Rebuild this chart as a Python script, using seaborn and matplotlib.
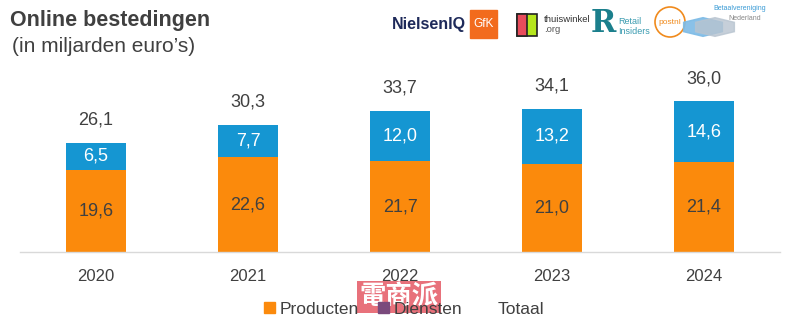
import matplotlib
matplotlib.use("Agg")
import matplotlib.pyplot as plt
import matplotlib.patches as mpatches
import seaborn as sns
import pandas as pd

# Online spending in the Netherlands, billions of euros
years = ["2020", "2021", "2022", "2023", "2024"]
producten = [19.6, 22.6, 21.7, 21.0, 21.4]
diensten = [6.5, 7.7, 12.0, 13.2, 14.6]
totaal = [26.1, 30.3, 33.7, 34.1, 36.0]

ORANGE = "#FB8A0C"
BLUE = "#1596D2"
TEXT = "#404040"

sns.set_theme(style="white")
plt.rcParams["font.family"] = ["Liberation Sans", "Noto Sans CJK SC", "DejaVu Sans"]

df = pd.DataFrame({"jaar": years, "Producten": producten,
                   "Diensten": diensten, "Totaal": totaal})

fig = plt.figure(figsize=(8, 3.35), dpi=100)
ax = fig.add_axes([0.025, 0.2478, 0.95, 0.5003])

# stacked bars: services drawn at full height, products on top of them
sns.barplot(data=df, x="jaar", y="Totaal", color=BLUE, width=0.4,
            saturation=1, ax=ax, edgecolor="none")
sns.barplot(data=df, x="jaar", y="Producten", color=ORANGE, width=0.4,
            saturation=1, ax=ax, edgecolor="none")

ax.set_xlim(-0.5, len(years) - 0.5)
ax.set_ylim(0, 40)
for side in ["top", "right", "left"]:
    ax.spines[side].set_visible(False)
ax.spines["bottom"].set_color("#d9d9d9")
ax.spines["bottom"].set_linewidth(1.0)
ax.set_yticks([])
ax.set_xlabel("")
ax.set_ylabel("")
ax.tick_params(axis="x", length=0, pad=12, labelsize=12, labelcolor=TEXT)

def nl(v):
    return f"{v:.1f}".replace(".", ",")

for i in range(len(years)):
    ax.text(i, producten[i] / 2, nl(producten[i]), ha="center", va="center",
            fontsize=13, color=TEXT)
    ax.text(i, producten[i] + diensten[i] / 2, nl(diensten[i]), ha="center",
            va="center", fontsize=13, color="white")
    ax.text(i, totaal[i] + 5.4, nl(totaal[i]), ha="center", va="center",
            fontsize=13, color=TEXT)

# title
fig.text(0.0125, 0.94, "Online bestedingen", fontsize=15.5, fontweight="bold",
         color=TEXT, ha="left", va="center")
fig.text(0.015, 0.86, "(in miljarden euro’s)", fontsize=15,
         color=TEXT, ha="left", va="center")

# legend
handles = [mpatches.Patch(color=ORANGE, label="Producten"),
           mpatches.Patch(color="#7A4A7C", label="Diensten"),
           mpatches.Patch(color="none", label="Totaal")]
fig.legend(handles=handles, loc="center", bbox_to_anchor=(0.505, 0.077),
           ncol=3, frameon=False, fontsize=12.5, handlelength=0.6,
           handleheight=0.6, handletextpad=0.3, columnspacing=1.1,
           labelcolor=TEXT)

# partner marks in the header
W, H = 800, 335
def fx(px):
    return px / W
def fy(py):
    return 1 - py / H

fig.text(fx(392), fy(24), "NielsenIQ", fontsize=11.5, fontweight="bold",
         color="#1E2A5A", ha="left", va="center")
fig.patches.append(mpatches.Rectangle((fx(470), fy(38)), fx(27), 28 / H,
                   transform=fig.transFigure, color="#F26B1D"))
fig.text(fx(483.5), fy(24), "GfK", fontsize=8.5, color="white",
         ha="center", va="center")
fig.patches.append(mpatches.Rectangle((fx(517), fy(36)), fx(20), 22 / H,
                   transform=fig.transFigure, facecolor="#B5E61D",
                   edgecolor="#222222", linewidth=1.2))
fig.patches.append(mpatches.Rectangle((fx(517), fy(36)), fx(10), 22 / H,
                   transform=fig.transFigure, facecolor="#E84C5B",
                   edgecolor="#222222", linewidth=1.2))
fig.text(fx(544), fy(19), "thuiswinkel", fontsize=6.8, color="#333333",
         ha="left", va="center")
fig.text(fx(544), fy(30), ".org", fontsize=6.8, color="#555555",
         ha="left", va="center")
fig.text(fx(603), fy(24), "R", fontsize=22, fontweight="bold",
         color="#1B7F8C", ha="center", va="center", family="DejaVu Serif")
fig.text(fx(618), fy(22), "Retail", fontsize=6.5, color="#3A9BB0",
         ha="left", va="center")
fig.text(fx(618), fy(32), "Insiders", fontsize=6.5, color="#3A9BB0",
         ha="left", va="center")
fig.patches.append(mpatches.Ellipse((fx(670), fy(22)), fx(30), 30 / H,
                   transform=fig.transFigure, facecolor="white",
                   edgecolor="#F08A1C", linewidth=1.2))
fig.text(fx(670), fy(22), "postnl", fontsize=6, color="#F08A1C",
         ha="center", va="center")
fig.patches.append(mpatches.RegularPolygon((fx(703), fy(27)), 6, radius=0.028,
                   transform=fig.transFigure, color="#7DBBE6", alpha=0.9))
fig.patches.append(mpatches.RegularPolygon((fx(715), fy(27)), 6, radius=0.028,
                   transform=fig.transFigure, color="#B8C4D0", alpha=0.8))
fig.text(fx(740), fy(9), "Betaalvereniging", fontsize=5, color="#3A9BD5",
         ha="center", va="center")
fig.text(fx(745), fy(18), "Nederland", fontsize=5, color="#888888",
         ha="center", va="center")

# watermark
fig.text(fx(399), fy(297), "電商派", fontsize=19, color="white",
         ha="center", va="center", fontweight="bold",
         family=["Noto Sans CJK SC"],
         bbox=dict(boxstyle="square,pad=0.1", facecolor="#E8717B",
                   edgecolor="none"))

fig.savefig("out.png", dpi=100)
